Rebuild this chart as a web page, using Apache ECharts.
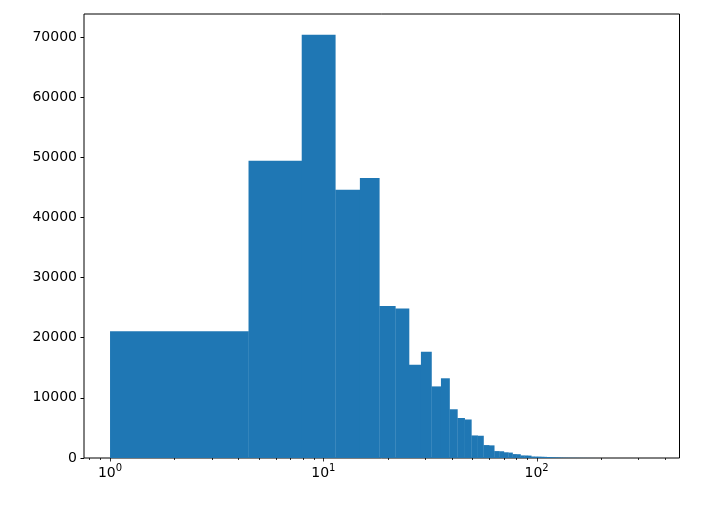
<!DOCTYPE html>
<html>
<head>
<meta charset="utf-8">
<script src="https://cdn.jsdelivr.net/npm/echarts@6/dist/echarts.min.js"></script>
<style>
html,body{margin:0;padding:0;background:#fff;}
#chart{width:703px;height:507px;}
</style>
</head>
<body>
<div id="chart"></div>
<script>
// Histogram: 100 equal-width bins starting at 1
var binStart = 1;
var binWidth = 3.46;
var counts = [
  21050, 49400, 70350, 44600, 46550, 25250, 24850, 15500, 17650, 11900,
  13250, 8100, 6650, 6400, 3750, 3700, 2150, 2100, 1150, 1120,
  950, 900, 650, 630, 430, 420, 400, 250, 240, 230,
  210, 190, 170, 150, 130, 110, 100, 70, 60, 50,
  45, 40, 35, 30, 25, 22, 20, 18, 16, 14,
  12, 10, 9, 8, 7, 6, 5, 5, 4, 4,
  3, 3, 3, 2, 2, 2, 2, 1, 1, 1,
  1, 1, 1, 1, 0, 1, 0, 0, 1, 0,
  1, 0, 0, 0, 1, 0, 0, 0, 0, 1,
  0, 0, 0, 0, 0, 0, 0, 0, 0, 1
];
var xMajorTicks = [1, 10, 100];
var xMinorTicks = [0.8, 0.9, 2, 3, 4, 5, 6, 7, 8, 9, 20, 30, 40, 50, 60, 70, 80, 90, 200, 300, 400];
var yTicks = [0, 10000, 20000, 30000, 40000, 50000, 60000, 70000];
var xMin = 0.755, xMax = 467.7;
var yMax = 73800;

var histData = counts.map(function (c, i) {
  return [binStart + binWidth * i, binStart + binWidth * (i + 1), c];
});
var minorData = xMinorTicks.map(function (v) { return [v, 0, 2]; });
var majorData = xMajorTicks.map(function (v) { return [v, 0, 3.5]; });

var chart = echarts.init(document.getElementById('chart'), null, {renderer: 'canvas'});
var font = 'DejaVu Sans';

function tickRender(params, api) {
  var p = api.coord([api.value(0), 0]);
  var x = Math.round(p[0]) + 0.5;
  return {
    type: 'line',
    shape: {x1: x, y1: p[1], x2: x, y2: p[1] + api.value(2)},
    style: {stroke: '#000', lineWidth: 0.8}
  };
}

chart.setOption({
  animation: false,
  grid: {left: 84, right: 23.5, top: 14, bottom: 49, show: true, borderColor: '#000', borderWidth: 1, backgroundColor: 'transparent'},
  xAxis: {
    type: 'log', logBase: 10, min: xMin, max: xMax,
    splitLine: {show: false},
    axisLine: {show: false},
    axisTick: {show: false},
    axisLabel: {
      show: true, margin: 5, color: '#000', fontFamily: font, fontSize: 14,
      customValues: xMajorTicks,
      formatter: function (v) {
        var e = Math.round(Math.log(v) / Math.LN10);
        return '{b|10}{s|' + e + '}';
      },
      rich: {
        b: {fontSize: 14, fontFamily: font, color: '#000'},
        s: {fontSize: 10, fontFamily: font, color: '#000', padding: [0, 0, 11, 0]}
      }
    }
  },
  yAxis: {
    type: 'value', min: 0, max: yMax, interval: 10000,
    splitLine: {show: false},
    axisLine: {show: false},
    axisTick: {show: true, length: 3.5, inside: false, lineStyle: {color: '#000', width: 1}, customValues: yTicks},
    axisLabel: {
      show: true, margin: 7, color: '#000', fontFamily: font, fontSize: 14, customValues: yTicks,
      formatter: function (v) { return String(v); }
    }
  },
  series: [
    {
      type: 'custom',
      clip: false,
      encode: {x: [0, 1], y: 2},
      data: histData,
      renderItem: function (params, api) {
        var p0 = api.coord([api.value(0), api.value(2)]);
        var p1 = api.coord([api.value(1), 0]);
        return {
          type: 'rect',
          shape: {x: p0[0], y: p0[1], width: p1[0] - p0[0] + 0.3, height: p1[1] - p0[1]},
          style: {fill: '#1f77b4'}
        };
      }
    },
    {
      type: 'custom', clip: false, silent: true, z: 5,
      encode: {x: 0, y: 1},
      data: minorData,
      renderItem: tickRender
    },
    {
      type: 'custom', clip: false, silent: true, z: 5,
      encode: {x: 0, y: 1},
      data: majorData,
      renderItem: tickRender
    }
  ]
});
</script>
</body>
</html>
